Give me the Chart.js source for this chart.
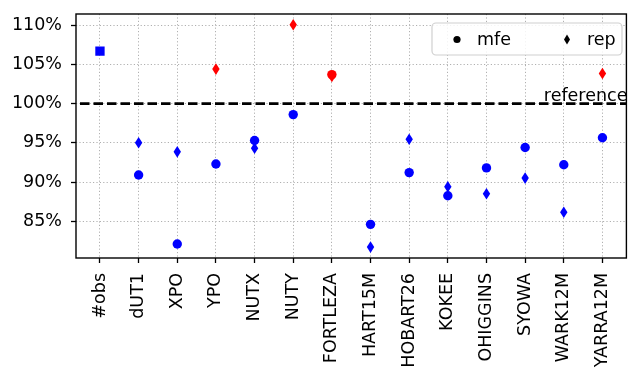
<!DOCTYPE html>
<html>
<head>
<meta charset="utf-8">
<script src="https://cdn.jsdelivr.net/npm/chart.js@4.4.1/dist/chart.umd.min.js"></script>
<style>
  html, body { margin: 0; padding: 0; background: #fff; }
  #wrap { width: 633px; height: 373px; }
</style>
</head>
<body>
<div id="wrap"><canvas id="chart" width="633" height="373"></canvas></div>
<script>
// categories along the x axis
const categories = ['#obs', 'dUT1', 'XPO', 'YPO', 'NUTX', 'NUTY', 'FORTLEZA', 'HART15M',
  'HOBART26', 'KOKEE', 'OHIGGINS', 'SYOWA', 'WARK12M', 'YARRA12M'];

// values in percent (null = no marker)
const obsValues = [106.7, null, null, null, null, null, null, null, null, null, null, null, null, null];
const mfeValues = [null, 90.9, 82.1, 92.3, 95.3, 98.6, 103.7, 84.6, 91.2, 88.25, 91.8, 94.4, 92.2, 95.65];
const repValues = [null, 95.0, 93.85, 104.4, 94.3, 110.05, 103.45, 81.7, 95.45, 89.4, 88.5, 90.5, 86.15, 103.85];

const yTicks = [85, 90, 95, 100, 105, 110];
const referenceValue = 100;

const FONT = 'DejaVu Sans';
const BLUE = '#0000ff';
const RED = '#ff0000';

const toPoints = arr => arr.map((v, i) => v === null ? null : { x: i, y: v })
  .filter(p => p !== null);
const colorFor = ctx => (ctx.raw && ctx.raw.y > referenceValue) ? RED : BLUE;

function thinDiamond(ctx, x, y, hw, hh) {
  ctx.beginPath();
  ctx.moveTo(x, y - hh);
  ctx.lineTo(x + hw, y);
  ctx.lineTo(x, y + hh);
  ctx.lineTo(x - hw, y);
  ctx.closePath();
  ctx.fill();
}

// reference line + label, thin diamond markers, legend and axes frame
const extras = {
  id: 'extras',
  beforeDatasetsDraw(chart) {
    const { ctx, chartArea: a, scales: { y } } = chart;
    const yr = y.getPixelForValue(referenceValue);
    ctx.save();
    ctx.strokeStyle = '#000';
    ctx.lineWidth = 2.6;
    ctx.setLineDash([9.5, 4]);
    ctx.beginPath();
    ctx.moveTo(a.left + 4, yr);
    ctx.lineTo(a.right, yr);
    ctx.stroke();
    ctx.setLineDash([]);
    ctx.fillStyle = '#000';
    ctx.font = `17.5px "${FONT}"`;
    ctx.textAlign = 'right';
    ctx.textBaseline = 'alphabetic';
    ctx.fillText('reference', a.right + 1, yr - 2.5);
    ctx.restore();
  },
  afterDatasetDraw(chart, args) {
    const ds = chart.data.datasets[args.index];
    if (ds.label !== 'rep') return;
    const { ctx } = chart;
    ctx.save();
    args.meta.data.forEach((el, i) => {
      ctx.fillStyle = ds.data[i].y > referenceValue ? RED : BLUE;
      thinDiamond(ctx, el.x, el.y, 3.7, 5.8);
    });
    ctx.restore();
  },
  afterDatasetsDraw(chart) {
    const { ctx, chartArea: a } = chart;
    ctx.save();
    // legend
    const lx = 432, ly = 23, lw = 190, lh = 32, r = 4;
    ctx.fillStyle = 'rgba(255,255,255,0.85)';
    ctx.strokeStyle = '#d0d0d0';
    ctx.lineWidth = 1.2;
    ctx.beginPath();
    ctx.roundRect(lx, ly, lw, lh, r);
    ctx.fill();
    ctx.stroke();
    ctx.fillStyle = '#000';
    ctx.beginPath();
    ctx.arc(457, 39.5, 3.6, 0, Math.PI * 2);
    ctx.fill();
    thinDiamond(ctx, 567, 39.5, 3, 5);
    ctx.font = `17.5px "${FONT}"`;
    ctx.textAlign = 'left';
    ctx.textBaseline = 'alphabetic';
    ctx.fillText('mfe', 477, 44.5);
    ctx.fillText('rep', 587, 44.5);
    // axes frame
    ctx.strokeStyle = '#000';
    ctx.lineWidth = 1.4;
    ctx.strokeRect(a.left, a.top, a.right - a.left, a.bottom - a.top);
    ctx.restore();
  }
};

new Chart(document.getElementById('chart'), {
  type: 'scatter',
  data: {
    datasets: [
      {
        label: '#obs',
        data: toPoints(obsValues),
        pointStyle: 'rect',
        pointRadius: 6.6,
        pointHoverRadius: 6.6,
        backgroundColor: BLUE,
        borderWidth: 0
      },
      {
        label: 'rep',
        data: toPoints(repValues),
        pointRadius: 0,
        pointHoverRadius: 0,
        borderWidth: 0
      },
      {
        label: 'mfe',
        data: toPoints(mfeValues),
        pointStyle: 'circle',
        pointRadius: 4.7,
        pointHoverRadius: 4.7,
        backgroundColor: colorFor,
        borderWidth: 0
      }
    ]
  },
  options: {
    responsive: false,
    animation: false,
    events: [],
    layout: { padding: { top: 14, right: 2, left: 0, bottom: 0 } },
    plugins: { legend: { display: false }, tooltip: { enabled: false } },
    scales: {
      x: {
        type: 'linear',
        min: -0.62,
        max: 13.62,
        afterBuildTicks: s => { s.ticks = categories.map((_, i) => ({ value: i })); },
        afterFit: s => { s.height = 115; s.paddingLeft = 0; s.paddingRight = 0; },
        border: { display: false, dash: [1.2, 2.2] },
        grid: {
          color: '#b0b0b0', lineWidth: 1,
          tickColor: '#000', tickLength: 5, tickWidth: 1.3, tickBorderDash: [0, 0]
        },
        ticks: {
          callback: v => categories[v],
          autoSkip: false,
          minRotation: 90,
          maxRotation: 90,
          padding: 10,
          color: '#000',
          font: { family: FONT, size: 17.5 }
        }
      },
      y: {
        min: 80.31,
        max: 111.43,
        afterBuildTicks: s => { s.ticks = yTicks.map(v => ({ value: v })); },
        afterFit: s => { s.width = 76; s.paddingTop = 0; s.paddingBottom = 0; },
        border: { display: false, dash: [1.2, 2.2] },
        grid: {
          color: '#b0b0b0', lineWidth: 1,
          tickColor: '#000', tickLength: 5, tickWidth: 1.3, tickBorderDash: [0, 0]
        },
        ticks: {
          callback: v => v + '%',
          padding: 9,
          color: '#000',
          font: { family: FONT, size: 17.5 }
        }
      }
    }
  },
  plugins: [extras]
});
</script>
</body>
</html>
